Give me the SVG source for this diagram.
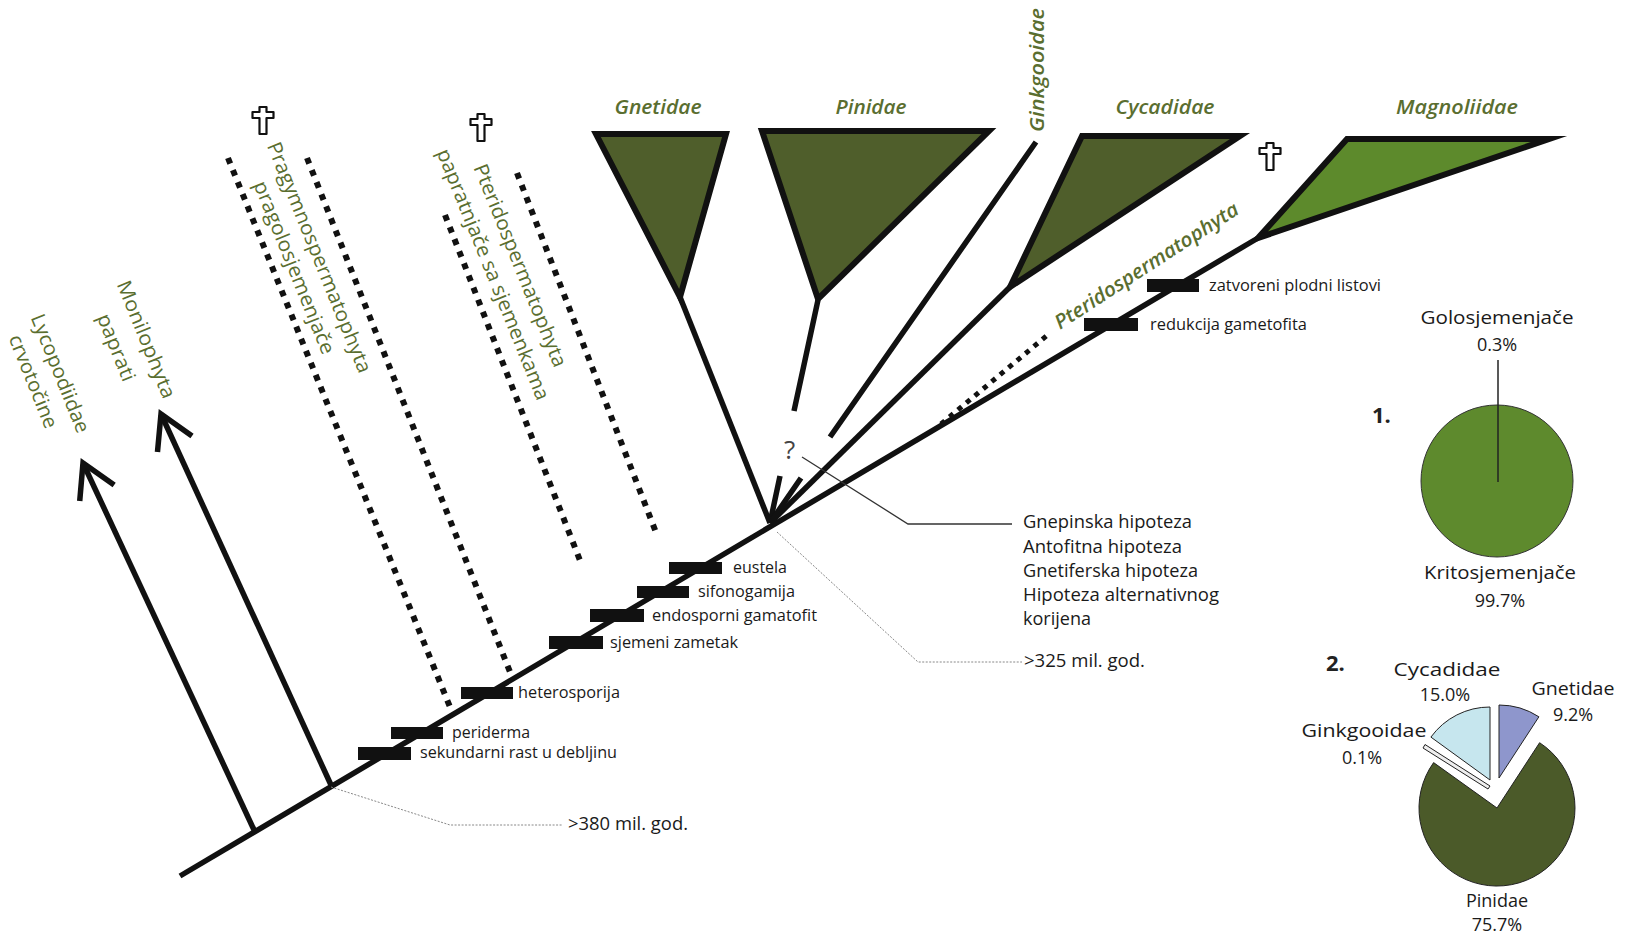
<svg xmlns="http://www.w3.org/2000/svg" width="1630" height="937" viewBox="0 0 1630 937">
<style>
.br{stroke:#111;stroke-width:5.5;fill:none}
.tri{stroke:#111;stroke-width:6;stroke-linejoin:miter;stroke-miterlimit:12}
.dk{fill:#4f5e2b}
.lt{fill:#5d8a2c}
.dot{stroke:#111;stroke-width:6;stroke-dasharray:6 7;fill:none}
.dot2{stroke:#111;stroke-width:5;stroke-dasharray:5 6;fill:none}
.bar{fill:#111}
.lbl{font-family:"Open Sans","Noto Sans",sans-serif;font-size:16px;fill:#1a1a1a}
.hyp{font-family:"Open Sans","Noto Sans",sans-serif;font-size:18px;fill:#1a1a1a}
.gl{font-family:"Open Sans","Noto Sans",sans-serif;font-weight:500;font-size:20px;fill:#5a6e30;text-anchor:middle}
.gi{font-family:"Open Sans","Noto Sans",sans-serif;font-weight:600;font-style:italic;font-size:20px;fill:#5a6e30}
.num{font-family:"Open Sans","Noto Sans",sans-serif;font-weight:700;font-size:22px;fill:#222}
.pl{font-family:"Open Sans","Noto Sans",sans-serif;font-size:18px;fill:#1a1a1a;text-anchor:middle}
.lead{stroke:#333;stroke-width:1.3;fill:none}
.leadd{stroke:#888;stroke-width:1;stroke-dasharray:2 1.5;fill:none}
.sl{stroke:#222;stroke-width:1}
</style>
<defs>
<marker id="chev" markerUnits="userSpaceOnUse" viewBox="-40 -25 45 50" markerWidth="45" markerHeight="50" refX="0" refY="0" orient="auto" overflow="visible">
<path d="M-33,-19 L0,0 L-33,19" fill="none" stroke="#111" stroke-width="5.5" stroke-linejoin="miter"/>
</marker>
<path id="cross" d="M-3.5,-13 H3.5 V-8 H10.5 V-2 H3.5 V14 H-3.5 V-2 H-10.5 V-8 H-3.5 Z" fill="#fff" stroke="#111" stroke-width="2.2" stroke-linejoin="round"/>
</defs>

<g id="connectors">
<path class="br" d="M180,876 L1258,238"/>
<path class="br" d="M255,832 L83,463" marker-end="url(#chev)"/>
<path class="br" d="M331,785 L161,414" marker-end="url(#chev)"/>
<path class="br" d="M680,297 L770,523"/>
<path class="br" d="M818,300 L794,411 M780,476 L770,523"/>
<path class="br" d="M1036,142 L830,437 M801,478 L770,523"/>
<path class="br" d="M1010,287 L770,523"/>
<path class="dot" d="M228,158 L452,712"/>
<path class="dot" d="M307,158 L512,677"/>
<path class="dot" d="M445,215 L581,563"/>
<path class="dot" d="M517,173 L657,535"/>
<path class="dot2" d="M941,424 L1050,333"/>
<path class="lead" d="M802,457 L908,524 L1012,524"/>
<path class="leadd" d="M777,532 L918,662 L1022,662"/>
<path class="leadd" d="M331,787 L450,825 L563,825"/>
</g>

<g id="lycopodiidae">
<text class="gl" transform="translate(54,376) rotate(68)" textLength="126" lengthAdjust="spacingAndGlyphs">Lycopodiidae</text>
<text class="gl" transform="translate(27,384) rotate(68)" textLength="99" lengthAdjust="spacingAndGlyphs">crvotočine</text>
</g>
<g id="monilophyta">
<text class="gl" transform="translate(140,342) rotate(68)" textLength="125" lengthAdjust="spacingAndGlyphs">Monilophyta</text>
<text class="gl" transform="translate(110,350) rotate(68)" textLength="71" lengthAdjust="spacingAndGlyphs">paprati</text>
</g>
<g id="pragymnospermatophyta">
<use href="#cross" x="263" y="120"/>
<text class="gl" transform="translate(313,260) rotate(68)" textLength="247" lengthAdjust="spacingAndGlyphs">Pragymnospermatophyta</text>
<text class="gl" transform="translate(288,270) rotate(68)" textLength="185" lengthAdjust="spacingAndGlyphs">pragolosjemenjače</text>
</g>
<g id="pteridospermatophyta-left">
<use href="#cross" x="481" y="127"/>
<text class="gl" transform="translate(514,268) rotate(68)" textLength="217" lengthAdjust="spacingAndGlyphs">Pteridospermatophyta</text>
<text class="gl" transform="translate(487,277) rotate(68)" textLength="269" lengthAdjust="spacingAndGlyphs">papratnjače sa sjemenkama</text>
</g>

<g id="gnetidae">
<polygon class="tri dk" points="596,134 726,134 680,297"/>
<text class="gi" x="658" y="114" text-anchor="middle" textLength="87" lengthAdjust="spacingAndGlyphs">Gnetidae</text>
</g>
<g id="pinidae">
<polygon class="tri dk" points="762,131 989,131 818,299"/>
<text class="gi" x="871" y="114" text-anchor="middle" textLength="71" lengthAdjust="spacingAndGlyphs">Pinidae</text>
</g>
<g id="ginkgooidae">
<text class="gi" transform="translate(1044,132) rotate(-90)" textLength="124" lengthAdjust="spacingAndGlyphs">Ginkgooidae</text>
</g>
<g id="cycadidae">
<polygon class="tri dk" points="1082,136 1240,136 1010,287"/>
<text class="gi" x="1165" y="114" text-anchor="middle" textLength="99" lengthAdjust="spacingAndGlyphs">Cycadidae</text>
</g>
<g id="magnoliidae">
<polygon class="tri lt" points="1347,139 1549,139 1258,238"/>
<text class="gi" x="1457" y="114" text-anchor="middle" textLength="122" lengthAdjust="spacingAndGlyphs">Magnoliidae</text>
</g>
<g id="pteridospermatophyta-right">
<use href="#cross" x="1270" y="156"/>
<text class="gi" transform="translate(1060,330) rotate(-33)" textLength="215" lengthAdjust="spacingAndGlyphs">Pteridospermatophyta</text>
</g>

<g id="characters">
<rect class="bar" x="669" y="562" width="53" height="12"/>
<text class="lbl" x="733" y="573" textLength="54" lengthAdjust="spacingAndGlyphs">eustela</text>
<rect class="bar" x="637" y="586" width="52" height="12"/>
<text class="lbl" x="698" y="597" textLength="97" lengthAdjust="spacingAndGlyphs">sifonogamija</text>
<rect class="bar" x="590" y="609" width="54" height="13"/>
<text class="lbl" x="652" y="621" textLength="165" lengthAdjust="spacingAndGlyphs">endosporni gamatofit</text>
<rect class="bar" x="549" y="636" width="54" height="13"/>
<text class="lbl" x="610" y="648" textLength="128" lengthAdjust="spacingAndGlyphs">sjemeni zametak</text>
<rect class="bar" x="461" y="687" width="52" height="12"/>
<text class="lbl" x="518" y="698" textLength="102" lengthAdjust="spacingAndGlyphs">heterosporija</text>
<rect class="bar" x="391" y="727" width="52" height="12"/>
<text class="lbl" x="452" y="738" textLength="78" lengthAdjust="spacingAndGlyphs">periderma</text>
<rect class="bar" x="358" y="747" width="53" height="13"/>
<text class="lbl" x="420" y="758" textLength="197" lengthAdjust="spacingAndGlyphs">sekundarni rast u debljinu</text>
<rect class="bar" x="1147" y="279" width="52" height="13"/>
<text class="lbl" x="1209" y="291" textLength="172" lengthAdjust="spacingAndGlyphs">zatvoreni plodni listovi</text>
<rect class="bar" x="1084" y="318" width="54" height="13"/>
<text class="lbl" x="1150" y="330" textLength="157" lengthAdjust="spacingAndGlyphs">redukcija gametofita</text>
</g>

<g id="hypotheses">
<text x="784" y="459" style="font-family:'Open Sans','Noto Sans',sans-serif;font-size:26px;fill:#444">?</text>
<text class="hyp" x="1023" y="528" textLength="169" lengthAdjust="spacingAndGlyphs">Gnepinska hipoteza</text>
<text class="hyp" x="1023" y="553" textLength="159" lengthAdjust="spacingAndGlyphs">Antofitna hipoteza</text>
<text class="hyp" x="1023" y="577" textLength="175" lengthAdjust="spacingAndGlyphs">Gnetiferska hipoteza</text>
<text class="hyp" x="1023" y="601" textLength="196" lengthAdjust="spacingAndGlyphs">Hipoteza alternativnog</text>
<text class="hyp" x="1023" y="625" textLength="68" lengthAdjust="spacingAndGlyphs">korijena</text>
</g>
<g id="age325">
<text class="hyp" x="1024" y="667" textLength="121" lengthAdjust="spacingAndGlyphs">&gt;325 mil. god.</text>
</g>
<g id="age380">
<text class="hyp" x="568" y="830" textLength="120" lengthAdjust="spacingAndGlyphs">&gt;380 mil. god.</text>
</g>

<g id="pie1">
<text class="num" x="1372" y="423">1.</text>
<circle cx="1497" cy="481" r="76" fill="#5e8a2d" stroke="#333" stroke-width="1"/>
<path d="M1498,360 L1498,482" stroke="#222" stroke-width="1.5"/>
<text class="pl" x="1497" y="324" textLength="153" lengthAdjust="spacingAndGlyphs">Golosjemenjače</text>
<text class="pl" x="1497" y="351">0.3%</text>
<text class="pl" x="1500" y="579" textLength="152" lengthAdjust="spacingAndGlyphs">Kritosjemenjače</text>
<text class="pl" x="1500" y="607">99.7%</text>
</g>

<g id="pie2">
<text class="num" x="1326" y="671">2.</text>
<path class="sl" d="M1497,808 L1539.6,742.7 A78,78 0 1 1 1433.6,762.6 Z" fill="#4b5a29"/>
<path class="sl" d="M1499,778 L1499,705 A73,73 0 0 1 1538.9,716.8 Z" fill="#8e96cc"/>
<path class="sl" d="M1490,780 L1430.9,737.1 A73,73 0 0 1 1490,707 Z" fill="#c6e6ee"/>
<path class="sl" d="M1488,789 L1423,748 L1425,744.5 L1490,786 Z" fill="#eee"/>
<text class="pl" x="1447" y="676" textLength="107" lengthAdjust="spacingAndGlyphs">Cycadidae</text>
<text class="pl" x="1445" y="701">15.0%</text>
<text class="pl" x="1573" y="695" textLength="83" lengthAdjust="spacingAndGlyphs">Gnetidae</text>
<text class="pl" x="1573" y="721">9.2%</text>
<text class="pl" x="1364" y="737" textLength="125" lengthAdjust="spacingAndGlyphs">Ginkgooidae</text>
<text class="pl" x="1362" y="764">0.1%</text>
<text class="pl" x="1497" y="907">Pinidae</text>
<text class="pl" x="1497" y="931">75.7%</text>
</g>
</svg>
